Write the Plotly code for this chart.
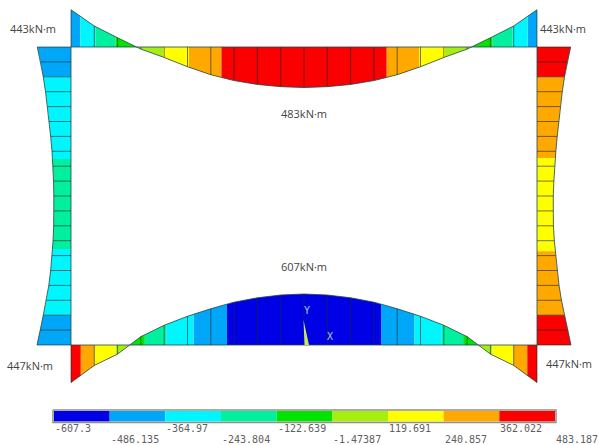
import plotly.graph_objects as go

# ---- data -----------------------------------------------------------
levels = [-607.3, -486.135, -364.97, -243.804, -122.639, -1.47387,
          119.691, 240.857, 362.022, 483.187]
level_labels = ["-607.3", "-486.135", "-364.97", "-243.804", "-122.639",
                "-1.47387", "119.691", "240.857", "362.022", "483.187"]
band_colors = ["#0000e6", "#00a6f7", "#00f6ff", "#00f0a0", "#00e400",
               "#a6ee10", "#ffff00", "#ffa800", "#fa0000"]

# bending moment at the 21 nodes of each member (kN·m)
top_half = [-443, -250, -110, 25, 125, 235, 330, 400, 446, 472, 483]
top_moment = top_half + top_half[-2::-1]
bottom_half = [447, 243, 108, -100, -235, -342, -432, -510, -562, -595, -607]
bottom_moment = bottom_half + bottom_half[-2::-1]
left_moment = [-443, -400, -365, -335, -310, -288, -268, -250, -238, -230, -226,
               -225, -228, -236, -250, -268, -292, -325, -365, -405, -447]
right_moment = [443, 400, 362, 333, 308, 286, 266, 248, 232, 222, 214,
                212, 216, 228, 246, 266, 290, 322, 362, 405, 447]

annotations_text = [("443kN·m", 33, 28), ("443kN·m", 563, 28),
                    ("483kN·m", 304, 113), ("607kN·m", 304, 266),
                    ("447kN·m", 30, 365), ("447kN·m", 569, 363)]

# ---- page scale ------------------------------------------------------
W, H = 599, 445
X0, X1, Y0, Y1 = 71.0, 537.0, 47.0, 345.0
SY, SX = 0.084, 0.076          # px per kN·m on beams and on columns
N = 20
BAR_X0, BAR_X1, BAR_Y0, BAR_Y1 = 54.0, 555.0, 411.0, 421.5


def band_of(m):
    for i in range(len(band_colors)):
        if m <= levels[i + 1]:
            return i
    return len(band_colors) - 1


def pieces(stations, moments):
    """Split a member at every contour level it crosses."""
    out = []
    for s0, s1, m0, m1 in zip(stations, stations[1:], moments, moments[1:]):
        cuts = [0.0, 1.0]
        for v in levels + [0.0]:
            if m0 != m1 and min(m0, m1) < v < max(m0, m1):
                cuts.append((v - m0) / (m1 - m0))
        cuts.sort()
        for a, b in zip(cuts, cuts[1:]):
            ma, mb = m0 + a * (m1 - m0), m0 + b * (m1 - m0)
            out.append((s0 + a * (s1 - s0), s0 + b * (s1 - s0), ma, mb, band_of((ma + mb) / 2)))
    return out


xs = [X0 + (X1 - X0) * i / N for i in range(N + 1)]
ys = [Y0 + (Y1 - Y0) * i / N for i in range(N + 1)]
polys = {i: ([], []) for i in range(len(band_colors))}
line_x, line_y = [], []
edge_x, edge_y = [], []


def add_beam(base, moments):
    to_y = lambda m: base + SY * m
    for a, b, ma, mb, band in pieces(xs, moments):
        px, py = polys[band]
        px += [a, a, b, b, a, None]
        py += [base, to_y(ma), to_y(mb), base, base, None]
    for s, m in zip(xs, moments):
        line_x.extend([s, s, None])
        line_y.extend([base, to_y(m), None])
    edge_x.extend(xs + [None] + [xs[0], xs[-1], None])
    edge_y.extend([to_y(m) for m in moments] + [None, base, base, None])


def add_column(base, moments):
    to_x = lambda m: base + SX * m
    for a, b, ma, mb, band in pieces(ys, moments):
        px, py = polys[band]
        px += [base, to_x(ma), to_x(mb), base, base, None]
        py += [a, a, b, b, a, None]
    for s, m in zip(ys, moments):
        line_x.extend([base, to_x(m), None])
        line_y.extend([s, s, None])
    edge_x.extend([to_x(m) for m in moments] + [None, base, base, None])
    edge_y.extend(ys + [None, ys[0], ys[-1], None])


add_beam(Y0, top_moment)
add_beam(Y1, bottom_moment)
add_column(X0, left_moment)
add_column(X1, right_moment)

fig = go.Figure()
for i, color in enumerate(band_colors):
    fig.add_trace(go.Scatter(x=polys[i][0], y=polys[i][1], mode="lines", fill="toself",
                             fillcolor=color, line=dict(width=0, color=color),
                             hoverinfo="skip", showlegend=False))
fig.add_trace(go.Scatter(x=line_x, y=line_y, mode="lines",
                         line=dict(color="rgba(30,40,40,0.62)", width=1),
                         hoverinfo="skip", showlegend=False))
fig.add_trace(go.Scatter(x=edge_x, y=edge_y, mode="lines",
                         line=dict(color="rgba(35,70,70,0.8)", width=1),
                         hoverinfo="skip", showlegend=False))

# triad at the origin
fig.add_trace(go.Scatter(x=[303.5, 309, 304.5, 303.5], y=[320, 345, 345, 320], mode="lines",
                         fill="toself", fillcolor="#c8e860", line=dict(width=0),
                         hoverinfo="skip", showlegend=False))
fig.add_trace(go.Scatter(x=[307, 330], y=[311, 337], mode="text", text=["Y", "X"],
                         textfont=dict(family="DejaVu Sans Mono", size=10, color="#a8c8f0"),
                         hoverinfo="skip", showlegend=False))

# contour legend
bar_step = (BAR_X1 - BAR_X0) / len(band_colors)
for i, color in enumerate(band_colors):
    a, b = BAR_X0 + i * bar_step, BAR_X0 + (i + 1) * bar_step
    fig.add_trace(go.Scatter(x=[a, b, b, a, a], y=[BAR_Y0, BAR_Y0, BAR_Y1, BAR_Y1, BAR_Y0],
                             mode="lines", fill="toself", fillcolor=color,
                             line=dict(width=0, color=color),
                             hoverinfo="skip", showlegend=False))
fig.add_trace(go.Scatter(x=[BAR_X0 - 1, BAR_X1 + 1, BAR_X1 + 1, BAR_X0 - 1, BAR_X0 - 1],
                         y=[BAR_Y0 - 1, BAR_Y0 - 1, BAR_Y1 + 1, BAR_Y1 + 1, BAR_Y0 - 1],
                         mode="lines", line=dict(color="#8f9088", width=1.5),
                         hoverinfo="skip", showlegend=False))

annots = []
for i, label in enumerate(level_labels):
    annots.append(dict(x=BAR_X0 - 1 + i * bar_step, y=428 if i % 2 == 0 else 439.5,
                       text=label, showarrow=False, xanchor="left", yanchor="middle",
                       font=dict(family="DejaVu Sans Mono", size=10, color="#606060")))
for text, x, y in annotations_text:
    annots.append(dict(x=x, y=y, text=text, showarrow=False, xanchor="center", yanchor="middle",
                       font=dict(family="Open Sans", size=11, color="#444444")))

fig.update_layout(
    width=W, height=H, margin=dict(l=0, r=0, t=0, b=0),
    paper_bgcolor="white", plot_bgcolor="white", showlegend=False,
    xaxis=dict(range=[0, W], visible=False, fixedrange=True),
    yaxis=dict(range=[H, 0], visible=False, fixedrange=True),
    annotations=annots,
)
fig.write_html("out.html", config={"displayModeBar": False},
               post_script="document.body.style.margin='0';document.body.style.overflow='hidden';")
